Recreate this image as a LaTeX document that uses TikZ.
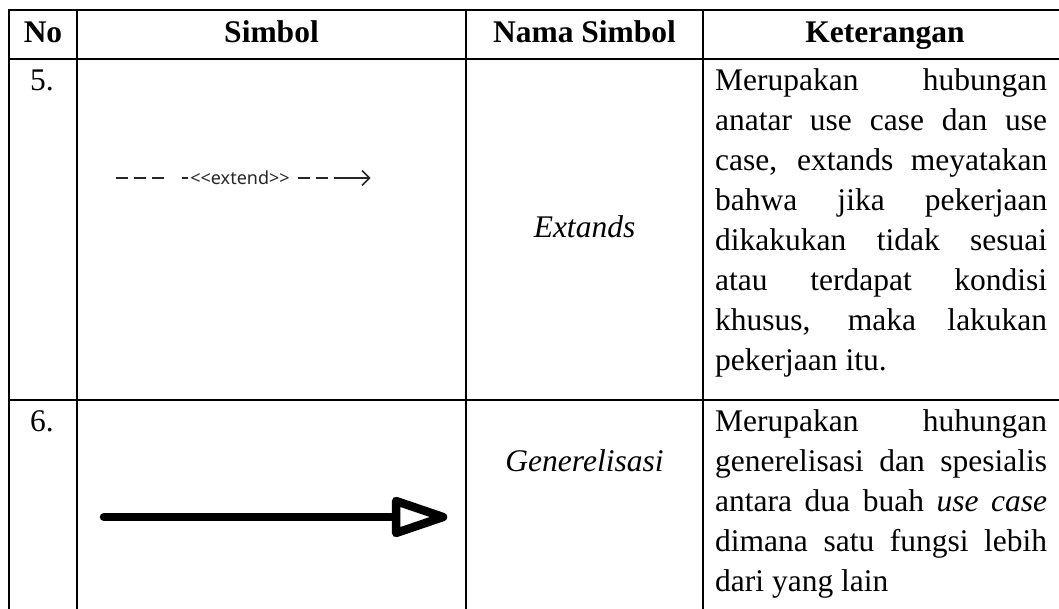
\documentclass[tikz,border=0pt]{standalone}
\usepackage{fontspec}
\setmainfont{Liberation Serif}
\newfontfamily\uifont{Noto Sans}
\newcommand{\jline}[1]{\makebox[332pt][s]{#1}}
\begin{document}
\begin{tikzpicture}[x=1pt,y=-1pt,
  grid/.style={line width=2.2pt, line join=miter},
  head/.style={font=\fontsize{31.5}{40}\selectfont\bfseries, anchor=base, inner sep=0pt},
  body/.style={font=\fontsize{31.5}{40}\selectfont, anchor=base, inner sep=0pt},
  symname/.style={font=\fontsize{31.5}{40}\selectfont\itshape, anchor=base, inner sep=0pt},
  desc/.style={font=\fontsize{31.5}{40}\selectfont, anchor=base west, inner sep=0pt},
  fineline/.style={line width=1.5pt, black!85},
  boldline/.style={line width=8.5pt, line cap=round, line join=round},
]
\useasboundingbox (0,0) rectangle (1059,608);
\clip (0,0) rectangle (1059,608);

% table rules
\draw[grid] (9,620) -- (9,10) -- (1080,10);
\draw[grid] (9,59) -- (1080,59);
\draw[grid] (9,400) -- (1080,400);
\draw[grid] (77,10) -- (77,620);
\draw[grid] (466,10) -- (466,620);
\draw[grid] (703,10) -- (703,620);

% header
\node[head] (hno)  at (43,42)    {No};
\node[head] (hsym) at (271.5,42) {Simbol};
\node[head] (hnm)  at (584.5,42) {Nama Simbol};
\node[head] (hket) at (885,42)   {Keterangan};

% row 5
\node[body] (no5) at (42,90) {5.};
\node[symname] (nm5) at (584.5,237) {Extands};
\node[desc] (ket5) at (715,90) {\parbox[t]{332pt}{\fontsize{31.5}{40}\selectfont
  \jline{Merupakan hubungan}\\
  \jline{anatar use case dan use}\\
  \jline{case, extands meyatakan}\\
  \jline{bahwa jika pekerjaan}\\
  \jline{dikakukan tidak sesuai}\\
  \jline{atau terdapat kondisi}\\
  \jline{khusus, maka lakukan}\\
  pekerjaan itu.}};

% extend relation symbol
\node[font=\uifont\fontsize{18}{20}\selectfont, anchor=base, inner sep=0pt, black!85]
  (ext) at (240,184) {<{}<extend>{}>};
\coordinate (e1) at (116,178);
\coordinate (e2) at (164,178);
\coordinate (e3) at (182,178);
\coordinate (e4) at (188,178);
\coordinate (e5) at (298,178);
\coordinate (e6) at (328,178);
\coordinate (e7) at (334,178);
\coordinate (e8) at (369.5,178);
\draw[fineline, dash pattern=on 12pt off 6pt] (e1) -- (e2);
\draw[fineline] (e3) -- (e4);
\draw[fineline, dash pattern=on 12pt off 6pt] (e5) -- (e6);
\draw[fineline] (e7) -- (e8);
\draw[fineline, line join=miter] ([shift={(-7.5,-7.5)}]e8) -- (e8) -- ([shift={(-7.5,7.5)}]e8);

% row 6
\node[body] (no6) at (42,431) {6.};
\node[symname] (nm6) at (584.5,471) {Generelisasi};
\node[desc] (ket6) at (715,431) {\parbox[t]{332pt}{\fontsize{31.5}{40}\selectfont
  \jline{Merupakan huhungan}\\
  \jline{generelisasi dan spesialis}\\
  \jline{antara dua buah \textit{use case}}\\
  \jline{dimana satu fungsi lebih}\\
  dari yang lain}};

% generalisation symbol
\coordinate (g1) at (104,517);
\coordinate (g2) at (396,517);
\coordinate (gt) at (443,517);
\draw[boldline] (g1) -- (g2);
\draw[boldline, fill=white] (396,501) -- (gt) -- (396,533) -- cycle;
\end{tikzpicture}
\end{document}
